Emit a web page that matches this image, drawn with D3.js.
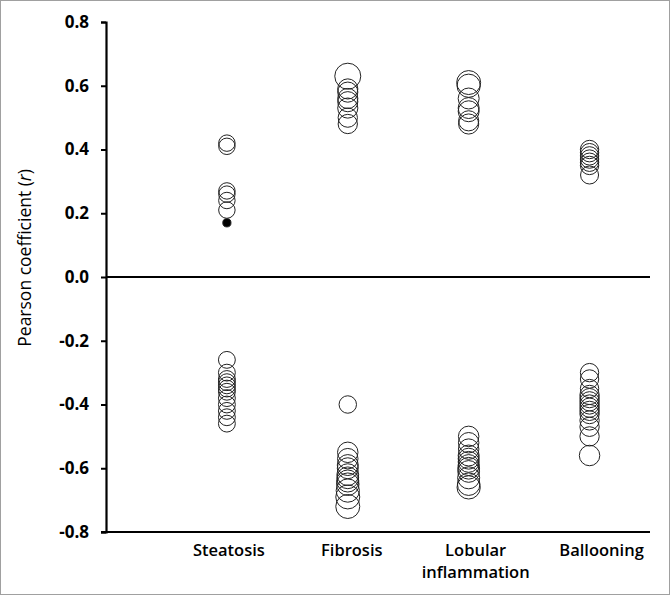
<!DOCTYPE html>
<html><head><meta charset="utf-8">
<script src="https://cdn.jsdelivr.net/npm/d3@7"></script>
<style>body{margin:0;background:#fff}</style>
</head><body>
<svg id="c" width="671" height="596"></svg>
<script>
const categories = ["Steatosis", "Fibrosis", "Lobular inflammation", "Ballooning"];
const yTicks = [0.8, 0.6, 0.4, 0.2, 0.0, -0.2, -0.4, -0.6, -0.8];

const steatosisValues = [0.42, 0.41, 0.27, 0.26, 0.24, 0.21, 0.17, -0.26, -0.30, -0.32, -0.33, -0.34, -0.35, -0.36, -0.38, -0.40, -0.42, -0.44, -0.46];
const steatosisSizes  = [40, 40, 40, 40, 40, 40, 10, 42, 42, 42, 42, 42, 42, 42, 42, 42, 42, 42, 42];
const fibrosisValues  = [0.63, 0.59, 0.58, 0.56, 0.55, 0.53, 0.50, 0.48, -0.40, -0.55, -0.57, -0.59, -0.60, -0.62, -0.63, -0.64, -0.65, -0.67, -0.69, -0.72];
const fibrosisSizes   = [100, 60, 60, 60, 60, 60, 55, 55, 45, 62, 62, 65, 65, 70, 70, 72, 75, 80, 85, 85];
const lobularValues   = [0.61, 0.60, 0.56, 0.53, 0.52, 0.49, 0.48, -0.50, -0.52, -0.54, -0.56, -0.57, -0.58, -0.59, -0.60, -0.61, -0.63, -0.65, -0.66];
const lobularSizes    = [85, 80, 65, 65, 65, 60, 60, 62, 62, 62, 65, 65, 65, 65, 70, 70, 72, 75, 80];
const balloonValues   = [0.40, 0.39, 0.38, 0.37, 0.36, 0.35, 0.32, -0.30, -0.32, -0.35, -0.37, -0.38, -0.39, -0.40, -0.41, -0.42, -0.43, -0.45, -0.47, -0.50, -0.56];
const balloonSizes    = [50, 50, 50, 50, 50, 50, 48, 50, 50, 50, 55, 55, 55, 55, 55, 55, 55, 55, 55, 55, 62];
const filledPoints    = [{ category: "Steatosis", value: 0.17 }];

const seriesValues = [steatosisValues, fibrosisValues, lobularValues, balloonValues];
const seriesSizes  = [steatosisSizes, fibrosisSizes, lobularSizes, balloonSizes];

const FONT = "'Open Sans', sans-serif";
const svg = d3.select("#c");
svg.append("rect").attr("x", 0.5).attr("y", 0.5).attr("width", 669).attr("height", 594)
  .attr("fill", "#fff").attr("stroke", "#a0a0a0").attr("stroke-width", 1);

const x = d3.scaleLinear().domain([0, 4.5]).range([106, 650]);
const y = d3.scaleLinear().domain([-0.8, 0.8]).range([532, 22]);
const r = d3.scaleSqrt().domain([0, 100]).range([0, 13]);

// y axis
const yAxis = d3.axisLeft(y).tickValues(yTicks).tickFormat(d3.format(".1f")).tickSize(5).tickPadding(12);
const gy = svg.append("g").attr("transform", `translate(${x(0)},0)`).call(yAxis);
gy.select(".domain").attr("stroke", "#000").attr("stroke-width", 2.2);
gy.selectAll(".tick line").attr("stroke", "#000").attr("stroke-width", 2);
gy.selectAll(".tick text").attr("font-family", FONT).attr("font-size", 17)
  .attr("font-weight", "bold").attr("fill", "#000")
  .text(d => d3.format(".1f")(d).replace("−", "-"));

// bottom axis line and zero line
svg.append("line").attr("x1", x(0) - 5).attr("x2", x(4.5)).attr("y1", y(-0.8)).attr("y2", y(-0.8))
  .attr("stroke", "#000").attr("stroke-width", 2.2);
svg.append("line").attr("x1", x(0)).attr("x2", x(4.5)).attr("y1", y(0)).attr("y2", y(0))
  .attr("stroke", "#000").attr("stroke-width", 2.2);

// bubbles
categories.forEach((cat, i) => {
  const pts = seriesValues[i].map((v, j) => ({ v, s: seriesSizes[i][j],
    filled: filledPoints.some(f => f.category === cat && f.value === v) }));
  svg.append("g").selectAll("circle").data(pts).join("circle")
    .attr("cx", x(i + 1)).attr("cy", d => y(d.v)).attr("r", d => r(d.s))
    .attr("fill", d => d.filled ? "#000" : "none")
    .attr("stroke", "#222").attr("stroke-width", 1);
});

// category labels
const labelOffsets = [2, 4, 7, 12];
categories.forEach((cat, i) => {
  const words = cat === "Lobular inflammation" ? ["Lobular", "inflammation"] : [cat];
  const t = svg.append("text").attr("text-anchor", "middle")
    .attr("font-family", FONT).attr("font-size", 16.5).attr("font-weight", 600)
    .attr("fill", "#000");
  words.forEach((w, k) => {
    t.append("tspan").attr("x", x(i + 1) + labelOffsets[i]).attr("y", 556 + k * 22).text(w);
  });
});

// y title
const title = svg.append("text").attr("transform", `translate(31,${y(0.06)}) rotate(-90)`)
  .attr("text-anchor", "middle").attr("font-family", FONT).attr("font-size", 17.5).attr("fill", "#000");
title.append("tspan").text("Pearson coefficient (");
title.append("tspan").attr("font-style", "italic").text("r");
title.append("tspan").text(")");
</script>
</body></html>
